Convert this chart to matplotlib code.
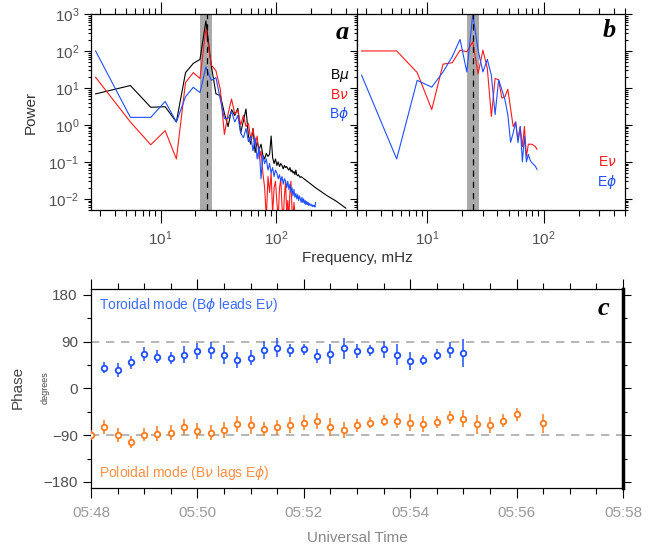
import numpy as np
import matplotlib
matplotlib.use("Agg")
import matplotlib.pyplot as plt
from matplotlib.ticker import FixedLocator, NullFormatter, LogLocator, LogFormatterSciNotation

plt.rcParams['font.family'] = ['Liberation Sans', 'DejaVu Sans']
plt.rcParams['mathtext.fontset'] = 'dejavusans'

# ---- spectra (panels a, b) ----
df = 2.74  # mHz, frequency resolution of the spectra
b_mu = [6.9, 11.6, 3.0, 3.1, 1.2, 26, 46, 59, 650, 42, 6.9, 6.2, 2.1, 0.9, 2.6,
        1.8, 2.8, 0.6, 1.3, 2.7, 0.5, 0.3, 0.8, 0.18, 0.35, 0.22, 0.3, 0.15, 0.12, 0.17,
        0.14, 0.16, 0.5, 0.13, 0.09, 0.12, 0.08, 0.1, 0.075, 0.09, 0.08, 0.065, 0.08, 0.07, 0.075,
        0.065, 0.06, 0.07, 0.055, 0.06, 0.05, 0.055, 0.045, 0.06, 0.045, 0.042, 0.045, 0.04, 0.038, 0.04]
b_mu_tail_freq = [219, 274, 330, 400]
b_mu_tail = [0.02, 0.0123, 0.0087, 0.0056]
b_nu = [19.4, 1.2, 0.29, 0.7, 0.12, 14, 26, 18, 400, 42, 29, 9,
        0.55, 2.0, 5.0, 2.0, 2.5, 1.0, 1.8, 0.9, 1.1, 0.4,
        0.8, 0.3, 0.5, 0.12, 0.2, 0.05, 0.02, 0.003, 0.04, 0.015,
        0.05, 0.004, 0.02, 0.03, 0.008, 0.003, 0.02, 0.035, 0.006, 0.003,
        0.012, 0.03, 0.004, 0.009, 0.003, 0.015, 0.03, 0.005, 0.003, 0.008,
        0.004, 0.003]
b_phi = [100, 1.6, 1.6, 4.3, 1.2, 5.8, 10.4, 7.5, 37, 16, 19, 4.8, 1.5, 1.5, 2.3,
         1.2, 1.8, 0.6, 0.45, 0.8, 0.35, 0.5, 0.2, 0.45, 0.12, 0.25, 0.035, 0.15, 0.09, 0.12,
         0.06, 0.09, 0.05, 0.07, 0.04, 0.06, 0.05, 0.035, 0.045, 0.03,
         0.04, 0.025, 0.035, 0.03, 0.02, 0.03, 0.018, 0.025, 0.015, 0.02,
         0.012, 0.018, 0.011, 0.014, 0.01, 0.013, 0.009, 0.012, 0.01, 0.008,
         0.011, 0.008, 0.01, 0.0075, 0.009, 0.007, 0.0085, 0.007, 0.008, 0.0065,
         0.0075, 0.007, 0.0065, 0.007, 0.0062, 0.0068, 0.0063, 0.0065, 0.006, 0.008]
e_nu = [100, 100, 26, 2.6, 44, 48, 105, 95, 177, 24, 105, 34, 1.7, 18, 16.6, 5.3,
        5.8, 9.2, 2.8, 0.91, 1.2, 0.4, 0.9, 0.26, 0.9, 0.14, 0.3, 0.3, 0.3, 0.28, 0.26, 0.22]
e_phi = [22, 0.12, 16, 10.5, 27, 70, 205, 27, 1000, 105, 27, 59, 22, 1.9, 16.6, 8.9,
         4.8, 1.9, 0.34, 0.6, 1.2, 0.33, 0.9, 0.1, 0.5, 0.1, 0.16, 0.11, 0.094, 0.085, 0.077, 0.063]
band = (22, 28)
f_peak = 25

# ---- phase (panel c) ----
times = ["05:48:00", "05:48:15", "05:48:30", "05:48:45", "05:49:00", "05:49:15", "05:49:30",
         "05:49:45", "05:50:00", "05:50:15", "05:50:30", "05:50:45", "05:51:00", "05:51:15",
         "05:51:30", "05:51:45", "05:52:00", "05:52:15", "05:52:30", "05:52:45", "05:53:00",
         "05:53:15", "05:53:30", "05:53:45", "05:54:00", "05:54:15", "05:54:30", "05:54:45",
         "05:55:00", "05:55:15", "05:55:30", "05:55:45", "05:56:00", "05:56:15", "05:56:30"]
nan = np.nan
tor_phase = [nan, 40, 35, 50, 66, 61, 58, 65, 72, 73, 65, 55, 59, 74, 78, 73, 75, 62, 66,
             77, 72, 73, 75, 65, 52, 54, 65, 74, 68, nan, nan, nan, nan, nan, nan]
tor_err = [nan, 11, 13, 13, 13, 13, 11, 16, 15, 17, 18, 15, 14, 17, 18, 13, 11, 14, 20,
           20, 13, 11, 16, 21, 17, 10, 10, 16, 27, nan, nan, nan, nan, nan, nan]
pol_phase = [-90, -74, -90, -103, -89, -87, -85, -74, -82, -85, -80, -69, -70, -78, -75,
             -70, -66, -63, -74, -80, -71, -66, -62, -62, -66, -69, -65, -56, -58, -69,
             -70, -62, -50, nan, -67]
pol_err = [10, 13, 14, 11, 13, 14, 15, 16, 15, 14, 15, 15, 17, 13, 15, 15, 14, 15, 17,
           15, 13, 11, 11, 14, 16, 15, 11, 13, 16, 18, 15, 12, 12, nan, 18]
time_ticks = ["05:48", "05:50", "05:52", "05:54", "05:56", "05:58"]

RED = '#ff1a1a'
BLUE = '#1f4fff'
ORANGE = '#ff7a1a'
TXT = '#505050'

fig = plt.figure(figsize=(6.48, 5.44), dpi=100)
ax_a = fig.add_axes([0.1404, 0.614, 0.4105, 0.3603])
ax_b = fig.add_axes([0.5509, 0.614, 0.4136, 0.3603])
ax_c = fig.add_axes([0.1404, 0.1035, 0.821, 0.3653])

freq = df * np.arange(1, 200)


def spectrum_axes(ax):
    ax.set_xscale('log')
    ax.set_yscale('log')
    ax.set_xlim(2.5, 500)
    ax.set_ylim(0.005, 1000)
    ax.axvspan(band[0], band[1], color='#aaaaaa', lw=0, zorder=0)
    ax.axvline(f_peak, color='black', ls=(0, (5, 4)), lw=0.9, zorder=4)
    ax.xaxis.set_major_locator(FixedLocator([10, 100]))
    ax.xaxis.set_minor_locator(LogLocator(base=10, subs=np.arange(2, 10)))
    ax.xaxis.set_minor_formatter(NullFormatter())
    ax.yaxis.set_major_locator(LogLocator(base=10, numticks=10))
    ax.yaxis.set_minor_locator(LogLocator(base=10, subs=np.arange(2, 10), numticks=20))
    ax.yaxis.set_minor_formatter(NullFormatter())
    ax.tick_params(which='both', direction='out', top=True, right=True,
                   colors='black', labelcolor=TXT, labelsize=11, width=0.8)
    ax.tick_params(axis='x', which='major', length=9, pad=5)
    ax.tick_params(axis='x', which='minor', length=4)
    ax.tick_params(axis='y', which='major', length=5)
    ax.tick_params(axis='y', which='minor', length=2.5)
    for s in ax.spines.values():
        s.set_linewidth(0.9)


spectrum_axes(ax_a)
spectrum_axes(ax_b)

ax_a.plot(np.r_[freq[:len(b_mu)], b_mu_tail_freq], np.r_[b_mu, b_mu_tail], color='black', lw=0.8)
ax_a.plot(freq[:len(b_nu)], b_nu, color=RED, lw=0.8)
ax_a.plot(freq[:len(b_phi)], b_phi, color=BLUE, lw=0.8)
ax_a.xaxis.set_major_formatter(LogFormatterSciNotation())
ax_a.set_ylabel('Power', color='#333333', fontsize=11, labelpad=8)
ax_a.text(0.97, 0.908, 'a', transform=ax_a.transAxes, ha='right', va='center',
          fontsize=19, fontweight='bold', fontstyle='italic', family='Liberation Serif')
ax_a.text(0.97, 0.685, r'B$\mu$', transform=ax_a.transAxes, ha='right', va='center', fontsize=10, color='black')
ax_a.text(0.97, 0.588, r'B$\nu$', transform=ax_a.transAxes, ha='right', va='center', fontsize=10, color=RED)
ax_a.text(0.97, 0.491, r'B$\phi$', transform=ax_a.transAxes, ha='right', va='center', fontsize=10, color=BLUE)

ax_b.plot(freq[:len(e_nu)], e_nu, color=RED, lw=0.8)
ax_b.plot(freq[:len(e_phi)], e_phi, color=BLUE, lw=0.8)
ax_b.tick_params(axis='y', which='both', labelleft=False)
ax_b.text(0.965, 0.918, 'b', transform=ax_b.transAxes, ha='right', va='center',
          fontsize=19, fontweight='bold', fontstyle='italic', family='Liberation Serif')
ax_b.text(0.97, 0.245, r'E$\nu$', transform=ax_b.transAxes, ha='right', va='center', fontsize=10, color=RED)
ax_b.text(0.97, 0.143, r'E$\phi$', transform=ax_b.transAxes, ha='right', va='center', fontsize=10, color=BLUE)

fig.text(0.551, 0.526, 'Frequency, mHz', ha='center', va='center', fontsize=11, color='#333333')

# ---- panel c ----
t_min = np.array([int(t[3:5]) - 48 + int(t[6:8]) / 60 for t in times])
ax_c.axhline(90, color='#aaaaaa', ls=(0, (5, 4)), lw=1.2, zorder=1)
ax_c.axhline(-90, color='#aaaaaa', ls=(0, (5, 4)), lw=1.2, zorder=1)
ax_c.errorbar(t_min, tor_phase, yerr=tor_err, fmt='o', ms=4, mfc='white', mec=BLUE,
              mew=1.3, ecolor=BLUE, elinewidth=1.1, capsize=0, zorder=3)
ax_c.errorbar(t_min, pol_phase, yerr=pol_err, fmt='o', ms=4, mfc='white', mec=ORANGE,
              mew=1.3, ecolor=ORANGE, elinewidth=1.1, capsize=0, zorder=3)
ax_c.set_xlim(0, 10)
ax_c.set_ylim(-191, 191)
ax_c.set_xticks(np.arange(0, 11, 2))
ax_c.set_xticklabels(time_ticks)
ax_c.set_xticks(np.arange(0, 10.01, 0.5), minor=True)
ax_c.set_yticks([-180, -90, 0, 90, 180])
ax_c.set_yticklabels(['\u2212180', '\u221290', '0', '90', '180'])
ax_c.set_yticks(np.arange(-180, 181, 45), minor=True)
ax_c.tick_params(which='both', direction='out', top=True, right=True, width=0.8)
ax_c.tick_params(axis='x', which='major', length=7, labelsize=11, labelcolor='#999999', pad=6)
ax_c.tick_params(axis='x', which='minor', length=4)
ax_c.tick_params(axis='y', which='major', length=6, labelsize=11, labelcolor=TXT)
ax_c.tick_params(axis='y', which='minor', length=3)
for s in ax_c.spines.values():
    s.set_linewidth(0.9)
ax_c.spines['right'].set_linewidth(2.5)
ax_c.set_xlabel('Universal Time', fontsize=11, color='#888888', labelpad=8)
fig.text(0.027, 0.287, 'Phase', rotation=90, ha='center', va='center', fontsize=11, color='#444444')
fig.text(0.069, 0.287, 'degrees', rotation=90, ha='center', va='center', fontsize=6.5, color='#444444')
ax_c.text(0.015, 0.92, r'Toroidal mode (B$\phi$ leads E$\nu$)', transform=ax_c.transAxes,
          ha='left', va='center', fontsize=10, color='#3d6bff')
ax_c.text(0.015, 0.075, r'Poloidal mode (B$\nu$ lags E$\phi$)', transform=ax_c.transAxes,
          ha='left', va='center', fontsize=10, color='#ff8f45')
ax_c.text(0.975, 0.904, 'c', transform=ax_c.transAxes, ha='right', va='center',
          fontsize=19, fontweight='bold', fontstyle='italic', family='Liberation Serif')

fig.savefig('out.png', dpi=100)
